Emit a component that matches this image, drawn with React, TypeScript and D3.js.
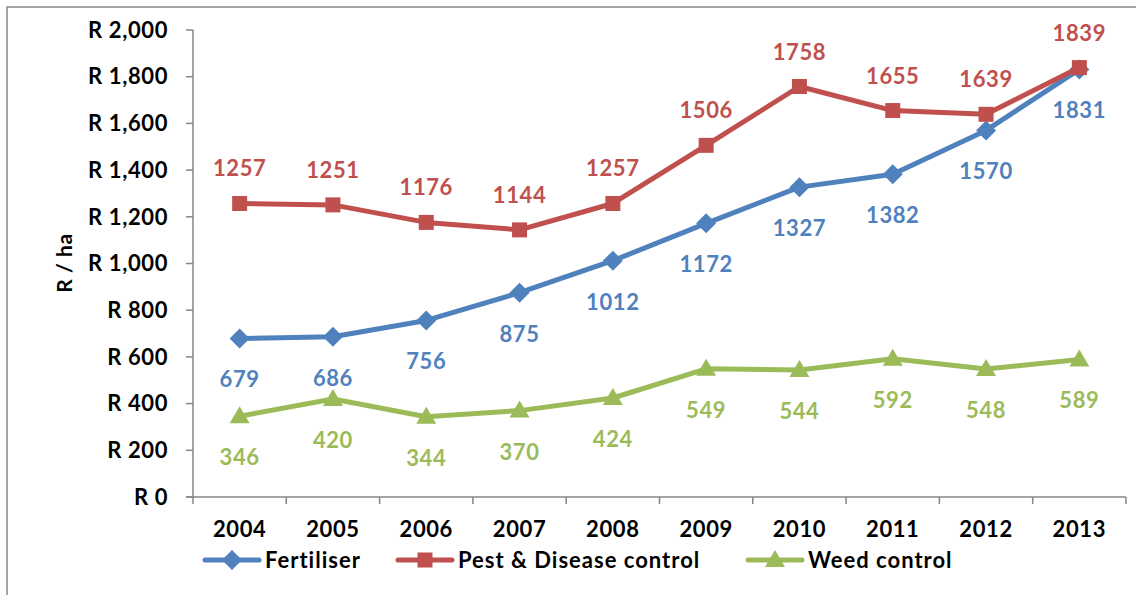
import React from "react";
import * as d3 from "d3";

const years = ["2004", "2005", "2006", "2007", "2008", "2009", "2010", "2011", "2012", "2013"];
const fertiliser = [679, 686, 756, 875, 1012, 1172, 1327, 1382, 1570, 1831];
const pestDisease = [1257, 1251, 1176, 1144, 1257, 1506, 1758, 1655, 1639, 1839];
const weedControl = [346, 420, 344, 370, 424, 549, 544, 592, 548, 589];
const yTicks = [0, 200, 400, 600, 800, 1000, 1200, 1400, 1600, 1800, 2000];

const FONT = "Lato, 'Open Sans', sans-serif";
const BLUE = "#4F81BD";
const RED = "#C0504D";
const GREEN = "#9BBB59";
const AXIS = "#868686";

type Series = { name: string; values: number[]; color: string; marker: string; labelDy: number };

const series: Series[] = [
  { name: "Fertiliser", values: fertiliser, color: BLUE, marker: "diamond", labelDy: 49 },
  { name: "Pest & Disease control", values: pestDisease, color: RED, marker: "square", labelDy: -27 },
  { name: "Weed control", values: weedControl, color: GREEN, marker: "triangle", labelDy: 49 },
];

function Marker({ type, x, y, color }: { type: string; x: number; y: number; color: string }) {
  if (type === "diamond") {
    const s = 10;
    return <path d={`M${x},${y - s}L${x + s},${y}L${x},${y + s}L${x - s},${y}Z`} fill={color} />;
  }
  if (type === "square") {
    const s = 7.5;
    return <rect x={x - s} y={y - s} width={2 * s} height={2 * s} fill={color} />;
  }
  const s = 10;
  return <path d={`M${x},${y - s}L${x + s},${y + 7}L${x - s},${y + 7}Z`} fill={color} />;
}

export default function App() {
  const W = 1136, H = 595;
  const x0 = 193, x1 = 1126;
  const x = d3.scaleBand<string>().domain(years).range([x0, x1]);
  const y = d3.scaleLinear().domain([0, 2000]).range([497, 30]);
  const line = d3.line<number>().x((_, i) => (x(years[i]) as number) + x.bandwidth() / 2).y((d) => y(d));
  const fmt = d3.format(",");

  const legend = [
    { s: series[0], lx: 205 },
    { s: series[1], lx: 398 },
    { s: series[2], lx: 748 },
  ];

  return (
    <div style={{ position: "absolute", left: 0, top: 0 }}>
      <svg width={W} height={H} style={{ display: "block", background: "#fff" }} fontFamily={FONT}>
        <rect x={7} y={7} width={1140} height={600} fill="none" stroke="#888" strokeWidth={1.5} />
        {/* y axis */}
        <line x1={x0} x2={x0} y1={y(2000)} y2={y(0)} stroke={AXIS} strokeWidth={1.5} />
        {yTicks.map((t) => (
          <g key={t}>
            <line x1={x0 - 7} x2={x0} y1={y(t)} y2={y(t)} stroke={AXIS} strokeWidth={1.5} />
            <text x={168} y={y(t)} dy="0.35em" textAnchor="end" fontSize={22} fontWeight={700} fill="#000" letterSpacing={0.6}>
              {"R " + fmt(t)}
            </text>
          </g>
        ))}
        {/* x axis */}
        <line x1={x0 - 7} x2={x1} y1={y(0)} y2={y(0)} stroke={AXIS} strokeWidth={1.5} />
        {years.map((yr, i) => (
          <g key={yr}>
            <line x1={(x(yr) as number) + x.bandwidth()} x2={(x(yr) as number) + x.bandwidth()} y1={y(0)} y2={y(0) + 7} stroke={AXIS} strokeWidth={1.5} />
            {i === 0 && <line x1={x0} x2={x0} y1={y(0)} y2={y(0) + 7} stroke={AXIS} strokeWidth={1.5} />}
            <text x={(x(yr) as number) + x.bandwidth() / 2} y={537} textAnchor="middle" fontSize={22} fontWeight={700} fill="#000" letterSpacing={0.6}>
              {yr}
            </text>
          </g>
        ))}
        <text transform={`translate(72,263) rotate(-90)`} textAnchor="middle" fontSize={21} fontWeight={700} fill="#000" letterSpacing={0.6}>
          R / ha
        </text>
        {series.map((s) => (
          <g key={s.name}>
            <path d={line(s.values) as string} fill="none" stroke={s.color} strokeWidth={5} strokeLinejoin="round" />
            {s.values.map((v, i) => {
              const cx = (x(years[i]) as number) + x.bandwidth() / 2;
              return <Marker key={i} type={s.marker} x={cx} y={y(v)} color={s.color} />;
            })}
          </g>
        ))}
        {series.map((s) =>
          s.values.map((v, i) => {
            const cx = (x(years[i]) as number) + x.bandwidth() / 2;
            return (
              <text key={s.name + i} x={cx} y={y(v) + s.labelDy} textAnchor="middle" fontSize={22} fontWeight={700} fill={s.color} letterSpacing={0.6}>
                {v}
              </text>
            );
          })
        )}
        {legend.map(({ s, lx }) => (
          <g key={s.name}>
            <line x1={lx} x2={lx + 54} y1={560} y2={560} stroke={s.color} strokeWidth={5} strokeLinecap="round" />
            <Marker type={s.marker} x={lx + 27} y={560} color={s.color} />
            <text x={lx + 60} y={560} dy="0.35em" fontSize={22} fontWeight={700} fill="#000" letterSpacing={1}>
              {s.name}
            </text>
          </g>
        ))}
      </svg>
    </div>
  );
}
